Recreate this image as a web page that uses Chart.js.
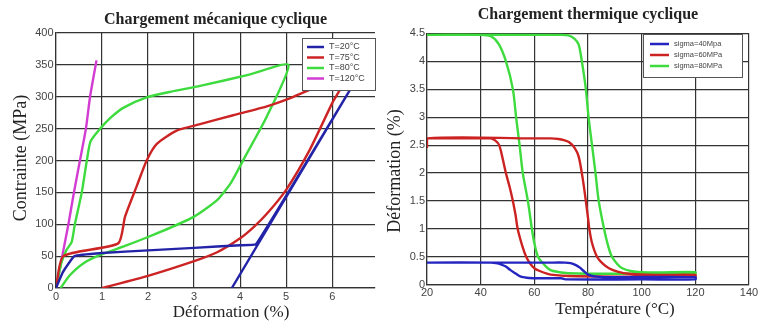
<!DOCTYPE html>
<html lang="fr">
<head>
<meta charset="utf-8">
<title>Chargement cyclique</title>
<script src="https://cdn.jsdelivr.net/npm/chart.js@4.4.1/dist/chart.umd.min.js"></script>
<style>
  html, body { margin: 0; padding: 0; background: #fff; }
  .panel { position: absolute; top: 0; width: 380px; height: 322px; }
  #left { left: 0; }
  #right { left: 380px; }
</style>
</head>
<body>
<div class="panel" id="left"><canvas id="mecaChart" width="380" height="322"></canvas></div>
<div class="panel" id="right"><canvas id="thermoChart" width="380" height="322"></canvas></div>
<script>
/* ===== DATA ===== */

// Chargement mecanique : [deformation (%), contrainte (MPa)]
const mecaLabels = ['T=20°C', 'T=75°C', 'T=80°C', 'T=120°C'];
const curveT20 = [[0,0],[0.15,25],[0.4,50],[1,55],[2,59],[3,63],[4,67],[4.35,69],[6.38,310],[3.82,0]];
const curveT75 = [[0,0],[0.16,50],[1.35,70],[1.5,112],[1.76,161],[1.97,200],[2.19,226],[2.62,247],[3.13,257],
  [3.85,271],[4.58,285],[5.09,298],[5.59,313],[6.25,325],[6,290],[5.5,215],[5,154],[4.6,118],[4.3,96],
  [4,78],[3.5,56],[3,42],[2,19],[1,0]];
const curveT80 = [[0,0],[0.12,40],[0.23,60],[0.34,72],[0.41,100],[0.56,150],[0.67,200],[0.75,230],[0.96,250],
  [1.2,268],[1.47,283],[1.97,299],[2.5,308],[3.13,317],[4.22,335],[5.05,350],[4.58,269],[4.1,205],[3.8,165],
  [3.5,138],[3,112],[2.5,95],[2,80],[1.5,66],[1,53],[0.6,39],[0.3,20],[0.1,0]];
const curveT120 = [[0,0],[0.27,100],[0.39,150],[0.52,200],[0.65,250],[0.74,300],[0.88,357]];
const strainTicks = [0, 1, 2, 3, 4, 5, 6];
const stressTicks = [0, 50, 100, 150, 200, 250, 300, 350, 400];

// Chargement thermique : [temperature (°C), deformation (%)]
const thermoLabels = ['sigma=40Mpa', 'sigma=60MPa', 'sigma=80MPa'];
const curveS40 = [[20,0.40],[65,0.40],[71.5,0.40],[73.5,0.39],[75.3,0.36],[77,0.31],[78.4,0.25],[80.3,0.18],
  [83,0.15],[90,0.14],[120,0.14],[120,0.10],[100,0.10],[72,0.10],[70,0.12],[62,0.12],[58,0.125],[56.4,0.135],
  [54.5,0.16],[53.2,0.2],[51,0.27],[49.4,0.33],[47.5,0.37],[45.7,0.39],[44,0.40],[20,0.40]];
const curveS60 = [[20,2.45],[20,2.62],[60,2.62],[66,2.62],[69,2.61],[71,2.59],[73,2.55],[75,2.45],[76.5,2.3],
  [77.7,2.0],[78.5,1.75],[79.2,1.5],[80,1.2],[80.5,1.0],[81.5,0.75],[83.4,0.5],[85.5,0.38],[87.8,0.3],[91,0.24],
  [95.3,0.2],[105,0.18],[120,0.18],[120,0.15],[90,0.15],[72.7,0.16],[67,0.18],[65,0.2],[62,0.25],[60,0.3],
  [58.5,0.38],[57,0.5],[55.5,0.7],[53.8,1.0],[53,1.25],[52,1.5],[50.8,1.75],[49.4,2.0],[48,2.3],[46.9,2.5],
  [45.5,2.58],[43.8,2.62],[40,2.62],[20,2.62]];
const curveS80 = [[20,4.47],[70,4.47],[72.7,4.46],[75,4.4],[76.5,4.3],[77.7,4.0],[79.2,3.5],[80.2,3.0],[81.5,2.5],
  [82.8,2.0],[84,1.5],[86,1.0],[87.5,0.7],[89,0.5],[92.8,0.3],[100,0.23],[120,0.23],[120,0.2],[100,0.2],
  [72.7,0.21],[67,0.25],[65,0.3],[63,0.4],[61.4,0.5],[60,0.75],[59.1,1.0],[57.6,1.5],[55.7,2.0],[54.5,2.5],
  [53.2,3.0],[52,3.5],[49.4,4.0],[46.8,4.3],[44,4.44],[40,4.47],[20,4.47]];
const tempTicks = [20, 40, 60, 80, 100, 120, 140];
const defTicks = [0, 0.5, 1, 1.5, 2, 2.5, 3, 3.5, 4, 4.5];

/* ===== HELPERS ===== */

Chart.defaults.font.family = "'Liberation Sans', Arial, sans-serif";
Chart.defaults.animation = false;

const toPoints = (pairs) => pairs.map(p => ({ x: p[0], y: p[1] }));

function series(label, pairs, color, tension) {
  return {
    label: label,
    data: toPoints(pairs),
    borderColor: color,
    borderWidth: 2.4,
    showLine: true,
    pointRadius: 0,
    tension: tension,
    fill: false
  };
}

// builds one axis; size = forced width (y) or height (x) of the axis box
function axis(min, max, tickValues, size, pad, isX) {
  return {
    type: 'linear',
    min: min,
    max: max,
    afterBuildTicks: (s) => { s.ticks = tickValues.map(v => ({ value: v })); },
    afterFit: (s) => { if (isX) s.height = size; else s.width = size; },
    ticks: { color: '#444', padding: pad, font: { size: 11 }, callback: (v) => String(v) },
    grid: { color: '#333', lineWidth: 1.2, drawTicks: false },
    border: { color: '#333', width: 1.2 }
  };
}

// legend drawn as a framed box inside the plot
const boxLegend = {
  id: 'boxLegend',
  afterDatasetsDraw(chart, args, o) {
    const ctx = chart.ctx;
    ctx.save();
    ctx.fillStyle = '#fff';
    ctx.fillRect(o.left, o.top, o.width, o.height);
    ctx.strokeStyle = '#555';
    ctx.lineWidth = 1;
    ctx.strokeRect(o.left + 0.5, o.top + 0.5, o.width, o.height);
    ctx.font = o.fontSize + "px 'Liberation Sans', Arial, sans-serif";
    ctx.textBaseline = 'middle';
    ctx.textAlign = 'left';
    chart.data.datasets.forEach((ds, i) => {
      const y = o.top + o.first + i * o.step;
      ctx.strokeStyle = ds.borderColor;
      ctx.lineWidth = 2.5;
      ctx.beginPath();
      ctx.moveTo(o.left + o.pad, y);
      ctx.lineTo(o.left + o.pad + o.len, y);
      ctx.stroke();
      ctx.fillStyle = '#444';
      ctx.fillText(ds.label, o.left + o.pad + o.len + 5, y);
    });
    ctx.restore();
  }
};

// axis titles at fixed spots (they are not centred on the plot in the original)
const axisTitles = {
  id: 'axisTitles',
  afterDraw(chart, args, o) {
    const ctx = chart.ctx;
    ctx.save();
    ctx.fillStyle = '#222';
    ctx.textAlign = 'center';
    ctx.textBaseline = 'middle';
    ctx.font = o.xSize + "px 'Liberation Serif', 'Times New Roman', serif";
    ctx.fillText(o.xText, o.xLeft, o.xTop);
    ctx.font = o.ySize + "px 'Liberation Serif', 'Times New Roman', serif";
    ctx.translate(o.yLeft, o.yTop);
    ctx.rotate(-Math.PI / 2);
    ctx.fillText(o.yText, 0, 0);
    ctx.restore();
  }
};

function titleOpts(text, top, bottom) {
  return {
    display: true,
    text: text,
    fullSize: false,
    color: '#222',
    font: { family: "'Liberation Serif', 'Times New Roman', serif", size: 16, weight: 'bold', lineHeight: 1.2 },
    padding: { top: top, bottom: bottom }
  };
}

/* ===== CHART 1 : mecanique ===== */

new Chart(document.getElementById('mecaChart'), {
  type: 'scatter',
  data: {
    datasets: [
      series(mecaLabels[0], curveT20, '#2323a8', 0.1),
      series(mecaLabels[1], curveT75, '#cc2424', 0.2),
      series(mecaLabels[2], curveT80, '#3ddb3d', 0.2),
      series(mecaLabels[3], curveT120, '#d23cd2', 0.2)
    ]
  },
  options: {
    responsive: false,
    layout: { padding: { left: 0, right: 5, top: 0, bottom: 0 } },
    scales: {
      x: axis(0, 6.93, strainTicks, 34, 2.4, true),
      y: axis(0, 400, stressTicks, 56, 2.5, false)
    },
    plugins: {
      legend: { display: false },
      tooltip: { enabled: false },
      title: titleOpts('Chargement mécanique cyclique', 10, 3.8),
      boxLegend: { left: 302, top: 38, width: 73, height: 52, first: 9, step: 10.5, pad: 5, len: 17, fontSize: 9 },
      axisTitles: {
        xText: 'Déformation (%)', xLeft: 231, xTop: 313, xSize: 17,
        yText: 'Contrainte (MPa)', yLeft: 21, yTop: 158, ySize: 18
      }
    }
  },
  plugins: [boxLegend, axisTitles]
});

/* ===== CHART 2 : thermique ===== */

new Chart(document.getElementById('thermoChart'), {
  type: 'scatter',
  data: {
    datasets: [
      series(thermoLabels[0], curveS40, '#2424c0', 0.3),
      series(thermoLabels[1], curveS60, '#cc2222', 0.3),
      series(thermoLabels[2], curveS80, '#3ddb3d', 0.3)
    ]
  },
  options: {
    responsive: false,
    layout: { padding: { left: 0, right: 11, top: 0, bottom: 0 } },
    scales: {
      x: axis(20, 140, tempTicks, 37, 1.4, true),
      y: axis(0, 4.5, defTicks, 47, 2, false)
    },
    plugins: {
      legend: { display: false },
      tooltip: { enabled: false },
      title: titleOpts('Chargement thermique cyclique', 5.5, 8.5),
      boxLegend: { left: 263, top: 34, width: 99, height: 43, first: 10, step: 11, pad: 7, len: 19, fontSize: 7.5 },
      axisTitles: {
        xText: 'Température (°C)', xLeft: 235, xTop: 310, xSize: 17,
        yText: 'Déformation (%)', yLeft: 15, yTop: 171, ySize: 18
      }
    }
  },
  plugins: [boxLegend, axisTitles]
});
</script>
</body>
</html>
